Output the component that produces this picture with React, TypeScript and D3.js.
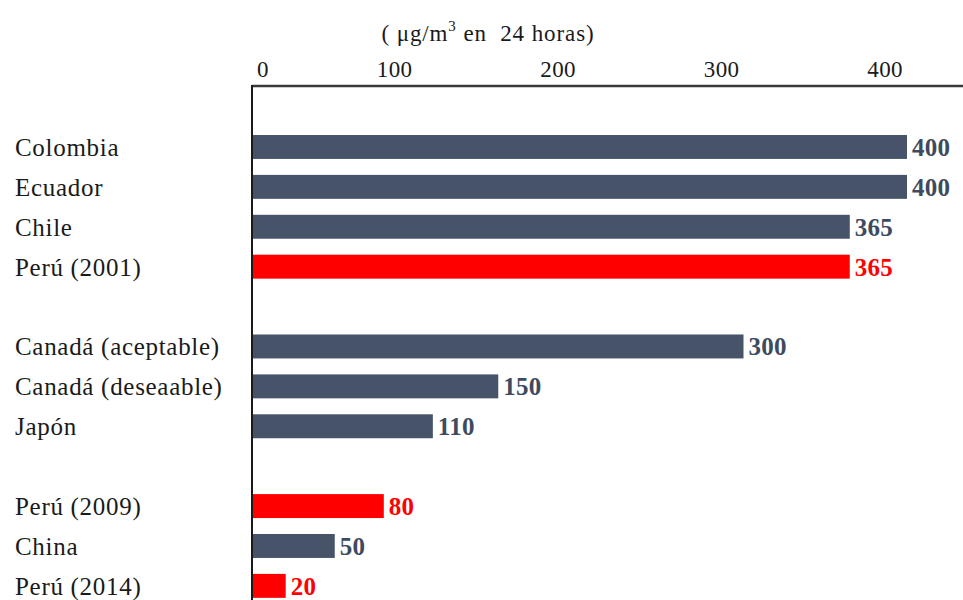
import React from "react";
import * as d3 from "d3";

// PM10 24-hour standards (µg/m³) by country
const categories = [
  "Colombia",
  "Ecuador",
  "Chile",
  "Perú (2001)",
  "Canadá (aceptable)",
  "Canadá (deseaable)",
  "Japón",
  "Perú (2009)",
  "China",
  "Perú (2014)",
];
const values = [400, 400, 365, 365, 300, 150, 110, 80, 50, 20];
// Rows followed by an empty spacer row
const groupEnds = ["Perú (2001)", "Japón"];
const tickValues = [0, 100, 200, 300, 400];

const W = 963;
const H = 600;
const SERIF = "'Liberation Serif', 'Times New Roman', 'DejaVu Serif', serif";
const BAR = "#465369";
const RED = "#ff0000";
const LABEL = "#3e4a5d";

export default function App() {
  const rows: string[] = [];
  categories.forEach((c, i) => {
    rows.push(c);
    if (groupEnds.includes(c)) rows.push(`__gap${i}`);
  });

  const x = d3.scaleLinear().domain([0, 400]).range([253, 907]);
  const step = 39.9;
  const pI = 0.4;
  const pO = 0.3;
  const y0 = 135 - pO * step;
  const y = d3
    .scaleBand<string>()
    .domain(rows)
    .range([y0, y0 + step * (rows.length - pI + 2 * pO)])
    .paddingInner(pI)
    .paddingOuter(pO);

  const isPeru = (c: string) => c.startsWith("Perú");
  const bw = y.bandwidth();

  return (
    <svg
      width={W}
      height={H}
      style={{ position: "absolute", left: 0, top: 0, background: "#fff" }}
      fontFamily={SERIF}
    >
      {/* unit title */}
      <text
        x={488}
        y={41}
        fontSize={23}
        letterSpacing={0.9}
        textAnchor="middle"
        fill="#1a1a1a"
      >
        ( μg/m
        <tspan fontSize={15} dy={-10}>3</tspan>
        <tspan dy={10}>{" en \u00a024 horas)"}</tspan>
      </text>

      {/* top axis tick labels */}
      {tickValues.map((t) => (
        <text
          key={t}
          x={t === 0 ? x(t) + 4 : x(t) - 4}
          y={77}
          fontSize={23}
          letterSpacing={0.4}
          textAnchor={t === 0 ? "start" : "end"}
          fill="#1a1a1a"
        >
          {t}
        </text>
      ))}

      {/* bars */}
      {categories.map((c, i) => (
        <rect
          key={c}
          x={x(0)}
          y={y(c)!}
          width={x(values[i]) - x(0)}
          height={bw}
          fill={isPeru(c) ? RED : BAR}
        />
      ))}

      {/* axis frame */}
      <line x1={252} x2={W} y1={86} y2={86} stroke="#3a3a3a" strokeWidth={2.5} />
      <line x1={252} x2={252} y1={85} y2={H} stroke="#1a1a1a" strokeWidth={2} />

      {/* category labels */}
      {categories.map((c) => (
        <text
          key={c}
          x={15}
          y={y(c)! + bw / 2 + 9}
          fontSize={25}
          letterSpacing={0.7}
          fill="#1a1a1a"
        >
          {c}
        </text>
      ))}

      {/* value labels */}
      {categories.map((c, i) => (
        <text
          key={c}
          x={x(values[i]) + 5}
          y={y(c)! + bw / 2 + 9}
          fontSize={25}
          fontWeight="bold"
          letterSpacing={0.3}
          fill={isPeru(c) ? RED : LABEL}
        >
          {values[i]}
        </text>
      ))}
    </svg>
  );
}
